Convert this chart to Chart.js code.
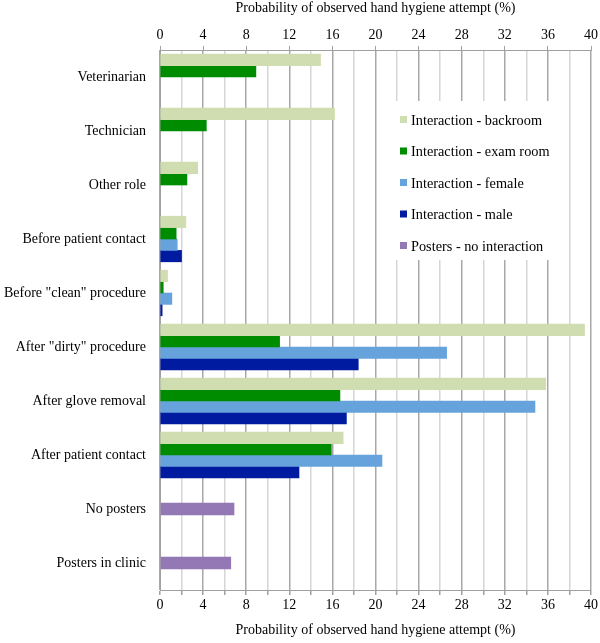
<!DOCTYPE html>
<html>
<head>
<meta charset="utf-8">
<script src="https://cdn.jsdelivr.net/npm/chart.js@4"></script>
<style>
  body { margin: 0; background: #fff; }
  #wrap { width: 600px; height: 643px; position: relative; }
</style>
</head>
<body>
<div id="wrap"><canvas id="grafico"></canvas></div>
<script>
const categorias = [
  'Veterinarian', 'Technician', 'Other role', 'Before patient contact',
  'Before "clean" procedure', 'After "dirty" procedure', 'After glove removal',
  'After patient contact', 'No posters', 'Posters in clinic'
];
const backroom = [14.9, 16.2, 3.5, 2.4, 0.7, 39.4, 35.8, 17.0, null, null];
const examRoom = [8.9, 4.3, 2.5, 1.5, 0.3, 11.1, 16.7, 15.9, null, null];
const female = [null, null, null, 1.6, 1.1, 26.6, 34.8, 20.6, null, null];
const male = [null, null, null, 2.0, 0.2, 18.4, 17.3, 12.9, null, null];
const posters = [null, null, null, null, null, null, null, null, 6.9, 6.6];
const xTicks = [0, 4, 8, 12, 16, 20, 24, 28, 32, 36, 40];

const fonte = { family: '"Liberation Serif", "Times New Roman", serif', size: 14 };
const tituloX = 'Probability of observed hand hygiene attempt (%)';

// legenda desenhada dentro da área do gráfico, com fundo branco
const legendaInterna = {
  id: 'legendaInterna',
  beforeDatasetsDraw(chart) {
    const ctx = chart.ctx;
    const area = chart.chartArea;
    const x0 = area.left + 235, y0 = area.top + 51;
    ctx.save();
    ctx.fillStyle = '#fff';
    ctx.fillRect(x0, y0, 162, 159);
    ctx.font = '14.3px ' + fonte.family;
    ctx.textBaseline = 'middle';
    chart.data.datasets.forEach((ds, i) => {
      const y = y0 + 20 + i * 31.5;
      ctx.fillStyle = ds.backgroundColor;
      ctx.fillRect(x0 + 5, y - 5, 7, 7);
      ctx.fillStyle = '#000';
      ctx.fillText(ds.label, x0 + 16, y);
    });
    ctx.restore();
  }
};

const ctx = document.getElementById('grafico').getContext('2d');
new Chart(ctx, {
  type: 'bar',
  data: {
    labels: categorias,
    datasets: [
      { label: 'Interaction - backroom', data: backroom, backgroundColor: '#d0ddb0', barThickness: 11.4 },
      { label: 'Interaction - exam room', data: examRoom, backgroundColor: '#008c00', barThickness: 11.4 },
      { label: 'Interaction - female', data: female, backgroundColor: '#66a3dd', barThickness: 11.4 },
      { label: 'Interaction - male', data: male, backgroundColor: '#001aa0', barThickness: 11.4 },
      // série dos cartazes fica fora do agrupamento, centrada na categoria
      { label: 'Posters - no interaction', data: posters, backgroundColor: '#9378b5',
        grouped: false, categoryPercentage: 1, barPercentage: 0.232 }
    ]
  },
  options: {
    indexAxis: 'y',
    responsive: true,
    maintainAspectRatio: false,
    animation: false,
    layout: { padding: { left: 0, right: 8, top: 0, bottom: 0 } },
    plugins: {
      legend: { display: false },
      tooltip: { enabled: false }
    },
    scales: {
      x: {
        position: 'bottom',
        min: 0, max: 40,
        afterBuildTicks: (axis) => {
          axis.ticks = [];
          for (let v = 0; v <= 40; v += 2) axis.ticks.push({ value: v });
        },
        ticks: {
          autoSkip: false,
          maxRotation: 0,
          color: '#000',
          font: fonte,
          padding: 2,
          callback: (v) => xTicks.includes(v) ? String(v) : ''
        },
        grid: {
          color: (c) => (c.tick && c.tick.value % 4 === 0) ? '#a8a8a8' : '#d6d6d6',
          lineWidth: 1.5,
          tickLength: 5,
          tickColor: '#a0a0a0'
        },
        border: { color: '#a0a0a0' },
        title: { display: true, text: tituloX, color: '#000', font: fonte, padding: { top: 6, bottom: 4 } },
        afterFit: (axis) => { axis.height = 53; }
      },
      x2: {
        position: 'top',
        min: 0, max: 40,
        afterBuildTicks: (axis) => { axis.ticks = xTicks.map(v => ({ value: v })); },
        ticks: { autoSkip: false, maxRotation: 0, color: '#000', font: fonte, padding: 2 },
        grid: { drawOnChartArea: false, tickLength: 4, tickColor: '#a0a0a0' },
        border: { color: '#a0a0a0' },
        title: { display: true, text: tituloX, color: '#000', font: fonte, padding: { top: 0, bottom: 6 } },
        afterFit: (axis) => { axis.height = 50; }
      },
      y: {
        type: 'category',
        position: 'left',
        grid: { display: false },
        border: { display: true, color: '#a0a0a0' },
        ticks: { color: '#000', font: fonte, padding: 6 },
        afterFit: (axis) => { axis.width = 160; }
      }
    }
  },
  plugins: [legendaInterna]
});
</script>
</body>
</html>
